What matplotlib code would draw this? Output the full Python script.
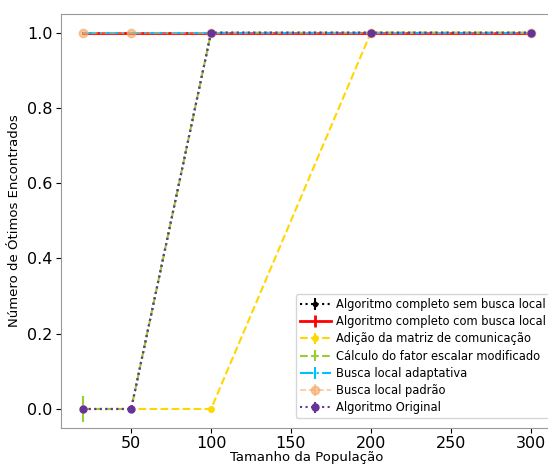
import numpy as np
import matplotlib.pyplot as plt

# Tamanhos de populacao
pop = [20, 50, 100, 200, 300]

# Numero medio de otimos encontrados
sem_busca = [0, 0, 1, 1, 1]
com_busca = [1, 1, 1, 1, 1]
matriz = [0, 0, 0, 1, 1]
fator = [0, 0, 1, 1, 1]
adaptativa = [1, 1, 1, 1, 1]
padrao = [1, 1, 1, 1, 1]
original = [0, 0, 1, 1, 1]

# desvios
err_sem = [0.0, 0.0, 0.0, 0.0, 0.0]
err_fator = [0.035, 0.0, 0.0, 0.0, 0.0]

labels = ["Algoritmo completo sem busca local",
          "Algoritmo completo com busca local",
          "Adição da matriz de comunicação",
          "Cálculo do fator escalar modificado",
          "Busca local adaptativa",
          "Busca local padrão",
          "Algoritmo Original"]

fig = plt.figure(figsize=(5.48, 4.65), dpi=100)
ax = fig.add_axes([0.111, 0.080, 0.898, 0.890])

ax.errorbar(pop, sem_busca, yerr=err_sem, fmt=':', color='black', marker='o', ms=3, lw=1.5, label=labels[0])
ax.errorbar(pop, com_busca, yerr=0, fmt='-', color='red', lw=2, label=labels[1])
ax.errorbar(pop, matriz, yerr=0, fmt='--', color='gold', marker='o', ms=4, lw=1.5, label=labels[2])
ax.errorbar(pop, fator, yerr=err_fator, fmt='--', color='yellowgreen', lw=1.5, label=labels[3])
ax.errorbar(pop, adaptativa, yerr=0, fmt='-.', color='deepskyblue', lw=1.5, label=labels[4])
ax.errorbar(pop, padrao, yerr=0, fmt='--', color='sandybrown', marker='o', ms=6, alpha=0.6, lw=1.2, label=labels[5])
ax.errorbar(pop, original, yerr=0, fmt=':', color='rebeccapurple', marker='o', ms=5, lw=1.5, label=labels[6])

ax.set_ylim(-0.05, 1.05)
ax.set_xlim(6, 314)

for s in ax.spines.values():
    s.set_color('#999999')

ax.tick_params(labelsize=11.5, pad=2.5)
ax.set_xlabel("Tamanho da População", fontsize=9.5, labelpad=0)
ax.set_ylabel("Número de Ótimos Encontrados", fontsize=9.5)
ax.legend(loc='lower left', bbox_to_anchor=(0.478, 0.024), borderaxespad=0,
          fontsize=8.3, labelspacing=0.37, borderpad=0.3,
          handlelength=2.7, handletextpad=0.5)

plt.savefig("out.png", dpi=100)
